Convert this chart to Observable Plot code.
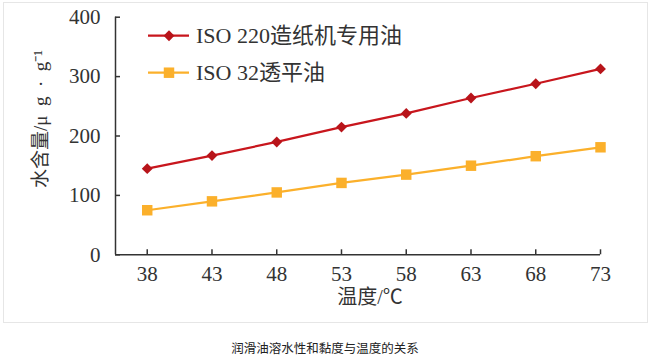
<!DOCTYPE html>
<html>
<head>
<meta charset="utf-8">
<script src="https://cdn.jsdelivr.net/npm/d3@7"></script>
<script src="https://cdn.jsdelivr.net/npm/@observablehq/plot@0.6"></script>
<style>
  html, body { margin: 0; padding: 0; background: #fff; }
  #wrap { position: relative; width: 664px; height: 361px; overflow: hidden; }
  #border { position: absolute; left: 3px; top: 2px; width: 643px; height: 319px; border: 1px solid #e6e6e6; }
  #chart { position: absolute; left: 0; top: 0; }
  #legend { position: absolute; left: 0; top: 0; }
  #caption { position: absolute; left: 0; width: 650px; top: 339px; text-align: center;
    font-family: "Noto Sans CJK SC", sans-serif; font-size: 12.5px; color: #222; line-height: 17px; }
</style>
</head>
<body>
<div id="wrap">
  <div id="border"></div>
  <div id="chart"></div>
  <svg id="legend" width="664" height="100"></svg>
  <div id="caption">润滑油溶水性和黏度与温度的关系</div>
</div>
<script>
// ---- data ----
const temps = [38, 43, 48, 53, 58, 63, 68, 73];
const iso220 = [145, 167, 190, 215, 238, 264, 288, 313];
const iso32 = [75, 90, 105, 121, 135, 150, 166, 181];
const seriesNames = ["ISO 220造纸机专用油", "ISO 32透平油"];
const seriesColors = ["#c8161d", "#fbb02b"];
const seriesSymbols = ["diamond2", "square"];
const xTicks = [38, 43, 48, 53, 58, 63, 68, 73];
const yTicks = [0, 100, 200, 300, 400];
const xLabel = "温度/℃";
const yLabel = "水含量/μ\u2002g\u2002·\u2002g⁻¹";
const xMin = 35.55;

const serif = "'Liberation Serif', 'Times New Roman', 'Noto Sans CJK SC', serif";
const ink = "#333";

const rows220 = temps.map((t, i) => ({t, v: iso220[i]}));
const rows32 = temps.map((t, i) => ({t, v: iso32[i]}));

const chart = Plot.plot({
  width: 664,
  height: 325,
  marginLeft: 115,
  marginRight: 64,
  marginTop: 16.7,
  marginBottom: 70.7,
  style: {fontFamily: serif, fontSize: "21px", color: ink, background: "transparent"},
  x: {domain: [xMin, 73]},
  y: {domain: [0, 400]},
  marks: [
    Plot.ruleX([xMin], {stroke: ink, strokeWidth: 1.5}),
    Plot.ruleY([0], {stroke: ink, strokeWidth: 1.5}),
    Plot.axisY({ticks: yTicks, tickSize: -5, tickPadding: 20, label: null, fontSize: 21, fontFamily: serif, stroke: ink, strokeWidth: 1.5}),
    Plot.axisX({ticks: xTicks, tickSize: -5, tickPadding: 16, label: null, fontSize: 21, fontFamily: serif, stroke: ink, strokeWidth: 1.5}),
    Plot.text([yLabel], {frameAnchor: "left", textAnchor: "middle", dx: -75, dy: -17, rotate: -90, fontSize: 19, fontFamily: serif, fill: ink}),
    Plot.text([xLabel], {frameAnchor: "bottom", textAnchor: "middle", dx: 12, dy: 49, fontSize: 20, fontFamily: serif, fill: ink}),
    Plot.line(rows220, {x: "t", y: "v", stroke: seriesColors[0], strokeWidth: 2.2}),
    Plot.line(rows32, {x: "t", y: "v", stroke: seriesColors[1], strokeWidth: 2.2}),
    Plot.dot(rows220, {x: "t", y: "v", symbol: seriesSymbols[0], r: 4.9, fill: "#b8141a", stroke: null}),
    Plot.dot(rows32, {x: "t", y: "v", symbol: seriesSymbols[1], r: 5.9, fill: seriesColors[1], stroke: null})
  ]
});
document.getElementById("chart").appendChild(chart);

// ---- legend ----
const lg = d3.select("#legend");
const legendY = [35.7, 72.7];
const markerFill = ["#b8141a", seriesColors[1]];
const markerSize = [Math.PI * 4.9 * 4.9, Math.PI * 5.9 * 5.9];
const symbolMap = {diamond2: d3.symbolDiamond2, square: d3.symbolSquare};
seriesNames.forEach((name, i) => {
  const g = lg.append("g").attr("transform", `translate(0,${legendY[i]})`);
  g.append("line").attr("x1", 148).attr("x2", 189).attr("y1", 0).attr("y2", 0)
    .attr("stroke", seriesColors[i]).attr("stroke-width", 2.2);
  g.append("path").attr("transform", "translate(169,0)")
    .attr("d", d3.symbol(symbolMap[seriesSymbols[i]], markerSize[i])()).attr("fill", markerFill[i]);
  g.append("text").attr("x", 196).attr("y", 0).attr("dy", "0.35em")
    .attr("font-family", serif).attr("font-size", 22).attr("fill", ink).text(name);
});
</script>
</body>
</html>
